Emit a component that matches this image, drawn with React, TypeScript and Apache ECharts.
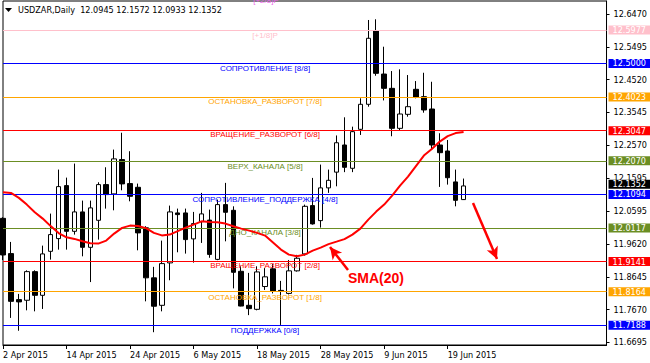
import React, { useEffect, useRef } from 'react';
import * as echarts from 'echarts';

const title = 'USDZAR,Daily  12.0945 12.1572 12.0933 12.1352';

const dates = [
  '2 Apr 2015', '3 Apr 2015', '6 Apr 2015', '7 Apr 2015', '8 Apr 2015', '9 Apr 2015', '10 Apr 2015', '13 Apr 2015',
  '14 Apr 2015', '15 Apr 2015', '16 Apr 2015', '17 Apr 2015', '20 Apr 2015', '21 Apr 2015', '22 Apr 2015', '23 Apr 2015',
  '24 Apr 2015', '27 Apr 2015', '28 Apr 2015', '29 Apr 2015', '30 Apr 2015', '1 May 2015', '4 May 2015', '5 May 2015',
  '6 May 2015', '7 May 2015', '8 May 2015', '11 May 2015', '12 May 2015', '13 May 2015', '14 May 2015', '15 May 2015',
  '18 May 2015', '19 May 2015', '20 May 2015', '21 May 2015', '22 May 2015', '25 May 2015', '26 May 2015', '27 May 2015',
  '28 May 2015', '29 May 2015', '1 Jun 2015', '2 Jun 2015', '3 Jun 2015', '4 Jun 2015', '5 Jun 2015', '8 Jun 2015',
  '9 Jun 2015', '10 Jun 2015', '11 Jun 2015', '12 Jun 2015', '15 Jun 2015', '16 Jun 2015', '17 Jun 2015', '18 Jun 2015',
  '19 Jun 2015', '22 Jun 2015', '23 Jun 2015',
];

const opens = [
  12.0387, 11.9336, 11.7965, 11.7946, 11.8799, 11.8093, 11.9404, 11.9783,
  12.1362, 12.0000, 12.0578, 11.9523, 12.0328, 12.1392, 12.1115, 12.2137,
  12.1422, 12.1312, 12.0104, 11.8614, 11.7795, 11.9059, 12.0548, 12.0548,
  11.9774, 12.0289, 12.0334, 11.9164, 12.0796, 12.0626, 11.8809, 11.7795,
  11.7676, 11.8355, 11.8882, 11.8240, 11.8150, 11.8822, 11.9327, 12.0766,
  12.0319, 12.1294, 12.1763, 12.2572, 12.1878, 12.3039, 12.3784, 12.5968,
  12.4686, 12.4260, 12.3068, 12.3486, 12.4231, 12.4012, 12.3644, 12.2572,
  12.2393, 12.1472, 12.0945,
];
const highs = [
  12.0420, 11.9684, 11.8135, 11.8838, 11.8838, 11.9574, 12.0528, 12.1839,
  12.1600, 12.2018, 12.0915, 12.0915, 12.1461, 12.1908, 12.2435, 12.2937,
  12.2386, 12.1422, 12.0153, 11.8941, 11.9723, 12.0766, 12.0677, 12.0677,
  12.0578, 12.1145, 12.0647, 12.0945, 12.1443, 12.0745, 11.8958, 11.8761,
  11.8958, 11.8903, 11.9021, 11.8523, 11.9146, 11.9299, 12.0796, 12.1591,
  12.1988, 12.1839, 12.2856, 12.3397, 12.3118, 12.3963, 12.6296, 12.6317,
  12.5500, 12.4775, 12.4826, 12.4656, 12.4477, 12.4724, 12.4456, 12.2922,
  12.2720, 12.1839, 12.1572,
];
const lows = [
  11.9145, 11.7420, 11.7038, 11.7646, 11.7616, 11.7687, 11.9157, 11.9455,
  11.9455, 11.9902, 11.9255, 11.8488, 11.9753, 12.0677, 12.0626, 12.1222,
  12.0894, 11.9434, 11.7914, 11.6994, 11.7616, 11.8542, 11.9375, 11.9336,
  11.9068, 11.9654, 11.9212, 11.9140, 11.9702, 11.8300, 11.7765, 11.7503,
  11.7646, 11.8254, 11.8150, 11.7211, 11.8120, 11.8800, 11.9277, 12.0200,
  12.0111, 12.1145, 12.1341, 12.1763, 12.1763, 12.2871, 12.3713, 12.4635,
  12.3900, 12.2832, 12.2995, 12.3415, 12.3963, 12.3534, 12.2422, 12.1323,
  12.1392, 12.0745, 12.0933,
];
const closes = [
  11.9295, 11.7914, 11.7897, 11.8799, 11.8093, 11.9327, 11.9902, 12.1332,
  12.0000, 12.0578, 11.9523, 12.0698, 12.1392, 12.1094, 12.2158, 12.1413,
  12.1043, 11.9953, 11.8614, 11.7768, 11.9038, 12.0578, 12.0498, 11.9753,
  12.0230, 12.0519, 11.9312, 12.0796, 12.0567, 11.8779, 11.7774, 11.7697,
  11.8790, 11.8644, 11.8225, 11.8210, 11.8822, 11.9198, 12.0745, 12.0221,
  12.1294, 12.1520, 12.2639, 12.1907, 12.2969, 12.3784, 12.5751, 12.4707,
  12.4260, 12.3068, 12.3495, 12.3713, 12.3993, 12.3615, 12.2572, 12.2343,
  12.1597, 12.0924, 12.1352,
];
const sma20 = [
  12.1163, 12.1145, 12.0996, 12.0796, 12.0567, 12.0379, 12.0155, 11.9947,
  11.9821, 11.9774, 11.9702, 11.9643, 11.9634, 11.9723, 11.9932, 12.0102,
  12.0170, 12.0161, 12.0096, 11.9953, 11.9878, 11.9902, 12.0006, 12.0111,
  12.0200, 12.0298, 12.0280, 12.0269, 12.0230, 12.0149, 12.0081, 12.0021,
  11.9953, 11.9872, 11.9664, 11.9455, 11.9306, 11.9255, 11.9306, 11.9425,
  11.9515, 11.9619, 11.9693, 11.9768, 11.9902, 12.0081, 12.0349, 12.0587,
  12.0796, 12.1064, 12.1362, 12.1630, 12.1943, 12.2256, 12.2450, 12.2673,
  12.2837, 12.2927, 12.2962,
];

const levelValues = [12.5977, 12.5, 12.4023, 12.3047, 12.207, 12.1094, 12.0117, 11.9141, 11.8164, 11.7188];
const levelNames = [
  '[+1/8]P', 'СОПРОТИВЛЕНИЕ [8/8]', 'ОСТАНОВКА_РАЗВОРОТ [7/8]', 'ВРАЩЕНИЕ_РАЗВОРОТ [6/8]', 'ВЕРХ_КАНАЛА [5/8]',
  'СОПРОТИВЛЕНИЕ_ПОДДЕРЖКА [4/8]', 'ДНО_КАНАЛА [3/8]', 'ВРАЩЕНИЕ_РАЗВОРОТ [2/8]', 'ОСТАНОВКА_РАЗВОРОТ [1/8]', 'ПОДДЕРЖКА [0/8]',
];
const levelColors = ['#ffc0cb', '#0000ff', '#ffa500', '#ff0000', '#6b8e23', '#0000ff', '#6b8e23', '#ff0000', '#ffa500', '#0000ff'];
const topLevelName = '[+2/8]P';
const lastPrice = 12.1352;
const yTicks = [11.6695, 11.767, 11.8645, 11.962, 12.0595, 12.1595, 12.257, 12.3545, 12.452, 12.5495, 12.647];
const smaLabel = 'SMA(20)';

const AXIS_FONT = '"DejaVu Sans Condensed", "Liberation Sans", sans-serif';
const LABEL_FONT = '"Liberation Sans", Arial, sans-serif';
const TOTAL_SLOTS = 77;

export default function App() {
  const ref = useRef<HTMLDivElement>(null);
  useEffect(() => {
    if (!ref.current) return;
    const chart = echarts.init(ref.current, null, { renderer: 'svg' });
    const categories = dates.concat(
      Array.from({ length: TOTAL_SLOTS - dates.length }, (_, i) => 'pad' + i)
    );
    const candleData = dates.map((_, i) => [opens[i], closes[i], lows[i], highs[i]]);
    const showIdx = (idx: number) => idx % 8 === 0 && idx < dates.length;

    const boxLabel = (v: number, bg: string) => ({
      show: true,
      position: 'end',
      distance: 2,
      formatter: v.toFixed(4),
      color: '#fff',
      backgroundColor: bg,
      padding: [0, 4, 0, 4],
      lineHeight: 9,
      fontSize: 9,
      fontFamily: AXIS_FONT,
    });

    const levelLineData: any[] = levelValues.map((v, i) => ({
      yAxis: v,
      lineStyle: { color: levelColors[i], width: 1, type: 'solid' },
      label: boxLabel(v, levelColors[i]),
    }));
    levelLineData.push({
      yAxis: lastPrice,
      lineStyle: { color: 'rgba(0,0,0,0)', width: 0 },
      label: boxLabel(lastPrice, '#000'),
    });
    levelValues.forEach((v, i) => {
      levelLineData.push([
        {
          xAxis: 0,
          yAxis: v,
          lineStyle: { color: 'rgba(0,0,0,0)', width: 0 },
          label: {
            show: true,
            position: 'insideMiddleBottom',
            distance: 1,
            formatter: levelNames[i],
            color: levelColors[i],
            fontSize: 8,
            fontFamily: LABEL_FONT,
          },
        },
        { xAxis: 66, yAxis: v },
      ]);
    });

    chart.setOption({
      animation: false,
      backgroundColor: '#fff',
      grid: {
        left: 2, right: 40, top: 1, bottom: 18,
        show: true, borderColor: '#000', borderWidth: 1, backgroundColor: '#fff',
      },
      xAxis: {
        type: 'category',
        data: categories,
        boundaryGap: false,
        axisLine: { show: true, lineStyle: { color: '#000', width: 1 } },
        axisTick: { show: true, interval: (idx: number) => showIdx(idx), length: 4, lineStyle: { color: '#000' } },
        axisLabel: {
          interval: (idx: number) => showIdx(idx),
          align: 'left',
          margin: 5,
          fontSize: 9,
          color: '#000',
          fontFamily: AXIS_FONT,
        },
        splitLine: { show: false },
      },
      yAxis: {
        type: 'value',
        position: 'right',
        min: 11.6613,
        max: 12.6862,
        scale: true,
        splitLine: { show: false },
        axisLine: { show: true, lineStyle: { color: '#000', width: 1 } },
        axisTick: { show: true, length: 3, customValues: yTicks, lineStyle: { color: '#000' } },
        axisLabel: {
          customValues: yTicks,
          formatter: (v: number) => v.toFixed(4),
          margin: 7,
          fontSize: 9,
          lineHeight: 9,
          color: '#000',
          fontFamily: AXIS_FONT,
        },
      },
      series: [
        {
          type: 'line',
          name: 'levels',
          data: [],
          z: 2,
          silent: true,
          markLine: {
            silent: true,
            symbol: ['none', 'none'],
            animation: false,
            data: levelLineData,
          },
        },
        {
          type: 'candlestick',
          name: 'USDZAR',
          data: candleData,
          barWidth: 5,
          z: 3,
          itemStyle: {
            color: '#fff',
            color0: '#000',
            borderColor: '#000',
            borderColor0: '#000',
            borderWidth: 1,
          },
        },
        {
          type: 'line',
          name: 'SMA(20)',
          data: sma20,
          z: 5,
          symbol: 'none',
          showSymbol: false,
          lineStyle: { color: '#ff0000', width: 2 },
          markLine: {
            silent: true,
            symbol: ['none', 'arrow'],
            symbolSize: [9, 12],
            animation: false,
            label: { show: false },
            lineStyle: { color: '#ff0000', width: 2.5, type: 'solid' },
            data: [
              [{ x: 348, y: 270 }, { x: 330, y: 247 }],
              [{ x: 473, y: 203 }, { x: 497, y: 259 }],
            ],
          },
        },
      ],
      graphic: [
        {
          type: 'polygon',
          shape: { points: [[5, 8], [12, 8], [8.5, 12]] },
          style: { fill: '#000' },
          z: 100,
        },
        {
          type: 'text',
          x: 18, y: 10,
          style: {
            text: title, fill: '#000', font: '9px ' + AXIS_FONT,
            textVerticalAlign: 'middle',
          },
          z: 100,
        },
        {
          type: 'text',
          x: 266, y: 0,
          style: {
            text: topLevelName, fill: '#ee66ee', font: '8px ' + LABEL_FONT,
            textAlign: 'center', textVerticalAlign: 'middle',
          },
          z: 100,
        },
        {
          type: 'text',
          x: 348, y: 278,
          style: {
            text: smaLabel, fill: '#ff0000', font: 'bold 14px ' + LABEL_FONT,
            textVerticalAlign: 'middle',
          },
          z: 100,
        },
      ],
    });
    return () => chart.dispose();
  }, []);
  return (
    <div
      ref={ref}
      style={{ position: 'absolute', left: 0, top: 0, width: 650, height: 363 }}
    />
  );
}
